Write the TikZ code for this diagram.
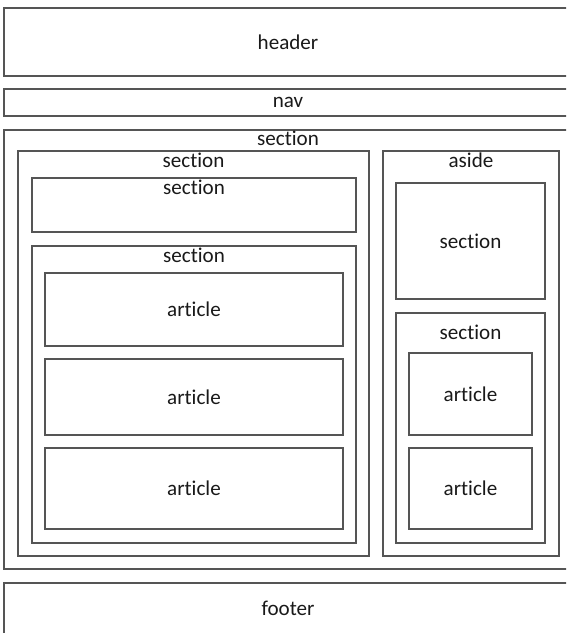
\documentclass[tikz,border=0pt]{standalone}
\usepackage{fontspec}
\setmainfont[Ligatures=NoCommon]{Carlito}
\usepackage{tikz}
\usetikzlibrary{fit,positioning}
\usepackage{xcolor}
\definecolor{lygrey}{RGB}{85,85,85}
\definecolor{lytext}{RGB}{25,25,25}
\tikzstyle{box} = [rectangle, draw=lygrey, line width=0.65pt, inner sep=0pt]
\tikzstyle{tag} = [inner sep=0pt, text=lytext, font=\fontsize{12}{14}\selectfont]

\begin{document}
\begin{tikzpicture}[x=0.02cm, y=-0.02cm]
\useasboundingbox (0,0) rectangle (566,633);
\clip (0,0) rectangle (566,633);
% page blocks
\node (header) [box, fit={(4,8) (572,76)}] {};
\node (header-t) [tag] at (header.center) {header};
\node (nav) [box, fit={(4,89) (572,116)}] {};
\node (nav-t) [tag] at (nav.center) {nav};
\node (main) [box, fit={(4,130) (572,569)}] {};
\node (main-t) [tag, below=0.03cm of main.north] {section};
\node (footer) [box, fit={(4,583) (572,635)}] {};
\node (footer-t) [tag] at (288,608) {footer};
% left column
\node (left) [box, fit={(18,151) (369,556)}] {};
\node (left-t) [tag, below=0.04cm of left.north] {section};
\node (top) [box, fit={(32,178) (356,232)}] {};
\node (top-t) [tag, below=0.04cm of top.north] {section};
\node (list) [box, fit={(32,246) (356,543)}] {};
\node (list-t) [tag, below=0.04cm of list.north] {section};
\node (art1) [box, fit={(45,273) (343,346)}] {};
\node (art1-t) [tag] at (art1.center) {article};
\node (art2) [box, fit={(45,359) (343,435)}] {};
\node (art2-t) [tag] at (art2.center) {article};
\node (art3) [box, fit={(45,448) (343,529)}] {};
\node (art3-t) [tag] at (art3.center) {article};
% aside column
\node (aside) [box, fit={(383,151) (559,556)}] {};
\node (aside-t) [tag, below=0.04cm of aside.north] {aside};
\node (side1) [box, fit={(396,183) (545,299)}] {};
\node (side1-t) [tag] at (side1.center) {section};
\node (side2) [box, fit={(396,313) (545,543)}] {};
\node (side2-t) [tag, below=0.24cm of side2.north] {section};
\node (sart1) [box, fit={(409,353) (532,435)}] {};
\node (sart1-t) [tag] at (sart1.center) {article};
\node (sart2) [box, fit={(409,448) (532,529)}] {};
\node (sart2-t) [tag] at (sart2.center) {article};
\end{tikzpicture}
\end{document}
